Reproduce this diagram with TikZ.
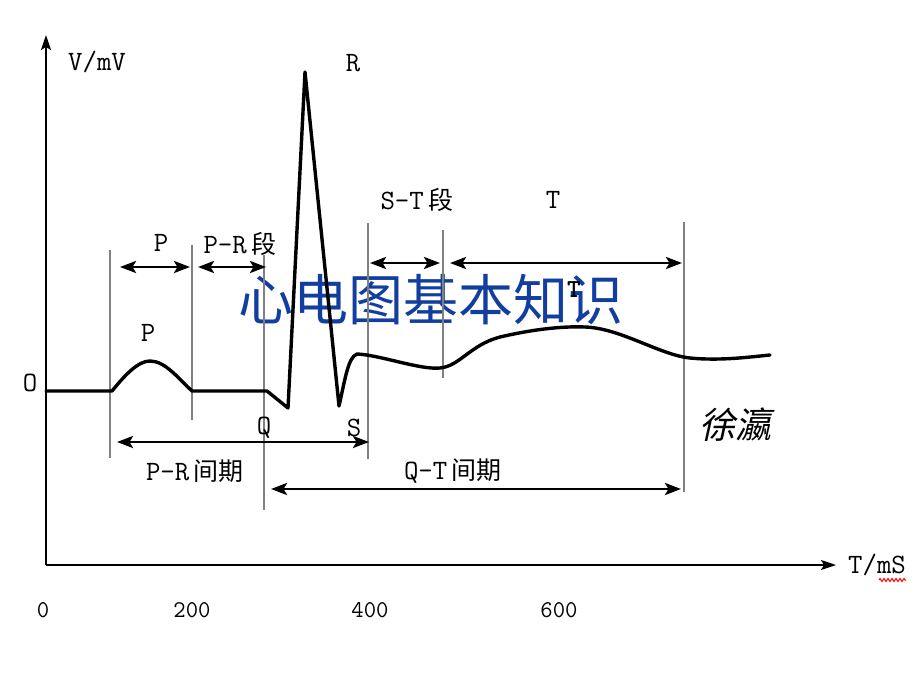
\documentclass[tikz,border=0pt]{standalone}
\usepackage{fontspec}
\newfontfamily\cjk{Noto Sans CJK SC}
\newfontfamily\cjkit{Noto Sans CJK SC}[FakeSlant=0.22]
\usetikzlibrary{arrows.meta,decorations.pathmorphing}
\definecolor{titleblue}{RGB}{18,62,160}
\definecolor{guidegray}{RGB}{128,128,128}
\newcommand{\zh}[1]{{\cjk\fontsize{25}{28}\selectfont #1}}
\begin{document}
\begin{tikzpicture}[x=1pt,y=-1pt,
  lbl/.style={font=\ttfamily\fontsize{28}{30}\selectfont, inner sep=0pt},
  num/.style={font=\ttfamily\fontsize{24}{26}\selectfont, inner sep=0pt},
  guide/.style={draw=guidegray, line width=1.5pt},
  dimline/.style={line width=2.8pt, {Stealth[length=16pt,width=12pt,inset=3.5pt]}-{Stealth[length=16pt,width=12pt,inset=3.5pt]}},
  axisline/.style={line width=1.8pt, -{Stealth[length=15pt,width=10pt,inset=3pt]}},
  wave/.style={line width=3.4pt, line join=round, line cap=round}]
\path[use as bounding box, fill=white] (0,0) rectangle (920,690);

% title
\node[text=titleblue, font=\cjk\fontsize{55}{60}\selectfont, inner sep=0pt] (title) at (431,300) {心电图基本知识};

% axes
\coordinate (orig) at (46,565);
\coordinate (ytip) at (46,35);
\coordinate (xtip) at (836,565);
\draw[axisline] (orig) -- (ytip);
\draw[axisline] (orig) -- (xtip);

% guide lines
\coordinate (g1t) at (110,250); \coordinate (g1b) at (110,458);
\coordinate (g2t) at (192,245); \coordinate (g2b) at (192,420);
\coordinate (g3t) at (264,255); \coordinate (g3b) at (264,510);
\coordinate (g4t) at (368,223); \coordinate (g4b) at (368,459);
\coordinate (g5t) at (443,230); \coordinate (g5b) at (443,378);
\coordinate (g6t) at (684,222); \coordinate (g6b) at (684,492);
\foreach \g in {1,...,6} \draw[guide] (g\g t) -- (g\g b);

% dimension arrows
\coordinate (pa) at (120,267); \coordinate (pb) at (190,267);
\coordinate (pra) at (198,267); \coordinate (prb) at (266,267);
\coordinate (sta) at (370,263); \coordinate (stb) at (440,263);
\coordinate (ta) at (450,263); \coordinate (tb) at (682,263);
\coordinate (pia) at (117,442); \coordinate (pib) at (369,442);
\coordinate (qta) at (271,489); \coordinate (qtb) at (681,489);
\draw[dimline] (pa) -- (pb);
\draw[dimline] (pra) -- (prb);
\draw[dimline] (sta) -- (stb);
\draw[dimline] (ta) -- (tb);
\draw[dimline] (pia) -- (pib);
\draw[dimline] (qta) -- (qtb);

% ECG wave
\draw[wave] (46,391) -- (112,391)
  .. controls (125,375) and (138,361) .. (150,361)
  .. controls (165,361) and (178,378) .. (192,391)
  -- (267,391) -- (288,408) -- (305,72) -- (339,406)
  .. controls (345,380) and (348,357) .. (357,354)
  .. controls (380,355) and (420,370) .. (440,368)
  .. controls (460,366) and (470,345) .. (500,337)
  .. controls (530,330) and (560,326) .. (585,327)
  .. controls (620,328) and (660,355) .. (690,358)
  .. controls (720,361) and (750,357) .. (770,355);

% labels
\node[lbl] (vmv) at (97,62) {V/mV};
\node[lbl] (rlab) at (353,63) {R};
\node[lbl] (stlab) at (417,200) {S-T\,\zh{段}};
\node[lbl] (tlab) at (553,200) {T};
\node[lbl] (plab) at (161,243) {P};
\node[lbl] (prlab) at (240,244) {P-R\,\zh{段}};
\node[lbl, font=\ttfamily\bfseries\fontsize{26}{28}\selectfont] (t2lab) at (574,290) {T};
\node[lbl] (pwlab) at (148,333) {P};
\node[lbl] (olab) at (30,383) {O};
\node[lbl] (qlab) at (264,428) {Q};
\node[lbl] (slab) at (354,428) {S};
\node[lbl] (prilab) at (195,471) {P-R\,\zh{间期}};
\node[lbl] (qtilab) at (453,471) {Q-T\,\zh{间期}};
\node[lbl] (tms) at (877,565) {T/mS};
\coordinate (wva) at (879,580); \coordinate (wvb) at (906,580);
\draw[red, line width=1pt, decoration={zigzag, segment length=4pt, amplitude=1.5pt}, decorate] (wva) -- (wvb);

\node[num] (n0) at (43,610) {0};
\node[num] (n200) at (192,610) {200};
\node[num] (n400) at (370,610) {400};
\node[num] (n600) at (559,610) {600};

\node[font=\cjkit\fontsize{36}{40}\selectfont, inner sep=0pt] (author) at (735,425) {徐瀛};
\end{tikzpicture}
\end{document}
